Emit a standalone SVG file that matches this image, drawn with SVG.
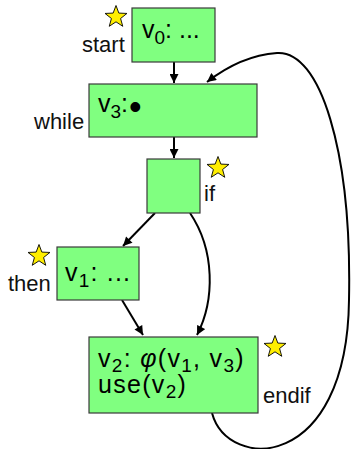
<svg xmlns="http://www.w3.org/2000/svg" width="351" height="449" viewBox="0 0 351 449">
<style>
.box{fill:#80ff80;stroke:#3a3a3a;stroke-width:1.2}
.lbl{font-family:"Liberation Sans",Arial,sans-serif;font-size:22px;fill:#111}
.nt{font-family:"Liberation Sans",Arial,sans-serif;font-size:25px;fill:#000}
.wide{letter-spacing:1.3px}
.sub{font-size:19px}
.star{fill:#ffee00;stroke:#000;stroke-width:0.9}
.edge{fill:none;stroke:#000;stroke-width:2}
</style>
<defs>
<marker id="ah" viewBox="0 0 10 10" refX="10" refY="5" markerWidth="10" markerHeight="9" markerUnits="userSpaceOnUse" orient="auto">
<path d="M0,0 L10,5 L0,10 z" fill="#000"/>
</marker>
<path id="star" class="star" d="M0,-11.5 L2.84,-3.91 L10.94,-3.55 L4.59,1.5 L6.76,9.3 L0,4.83 L-6.76,9.3 L-4.59,1.5 L-10.94,-3.55 L-2.84,-3.91 Z"/>
</defs>
<g id="edges">
<path class="edge" d="M174,62 L174,83" marker-end="url(#ah)"/>
<path class="edge" d="M174,137 L174,158" marker-end="url(#ah)"/>
<path class="edge" d="M155,213 L123,246" marker-end="url(#ah)"/>
<path class="edge" d="M122,300 L143,335" marker-end="url(#ah)"/>
<path class="edge" d="M190,213 C215,250 215,300 197,335" marker-end="url(#ah)"/>
<path class="edge" d="M212,413 C228,472 347,472 349,300 C352,150 320,50 277,53 C250,55 225,68 207,82" marker-end="url(#ah)"/>
</g>
<g id="start">
<rect class="box" x="132" y="8" width="83" height="54"/>
<text class="nt" x="142" y="38">v<tspan class="sub" dy="6">0</tspan><tspan dy="-6">: ...</tspan></text>
<use href="#star" x="116" y="17"/>
<text class="lbl" x="82" y="52">start</text>
</g>
<g id="while">
<rect class="box" x="89" y="84" width="168" height="53"/>
<text class="nt" x="98" y="112">v<tspan class="sub" dy="6">3</tspan><tspan dy="-6">:</tspan><tspan font-size="36" dx="1" dy="7">•</tspan></text>
<text class="lbl" x="34" y="129">while</text>
</g>
<g id="if">
<rect class="box" x="147" y="159" width="53" height="54"/>
<use href="#star" x="218" y="168"/>
<text class="lbl" x="204" y="201">if</text>
</g>
<g id="then">
<rect class="box" x="57" y="247" width="82" height="53"/>
<text class="nt" x="65" y="281" letter-spacing="1.2">v<tspan class="sub" dy="6">1</tspan><tspan dy="-6">: ...</tspan></text>
<use href="#star" x="39" y="256"/>
<text class="lbl" x="8" y="291">then</text>
</g>
<g id="endif">
<rect class="box" x="89" y="337" width="169" height="76"/>
<text class="nt wide" x="98" y="367">v<tspan class="sub" dy="5">2</tspan><tspan dy="-5">: </tspan><tspan font-style="italic">φ</tspan>(v<tspan class="sub" dy="5">1</tspan><tspan dy="-5">, v</tspan><tspan class="sub" dy="5">3</tspan><tspan dy="-5">)</tspan></text>
<text class="nt wide" x="98" y="393">use(v<tspan class="sub" dy="5">2</tspan><tspan dy="-5">)</tspan></text>
<use href="#star" x="275" y="347"/>
<text class="lbl" x="263" y="403">endif</text>
</g>
</svg>
